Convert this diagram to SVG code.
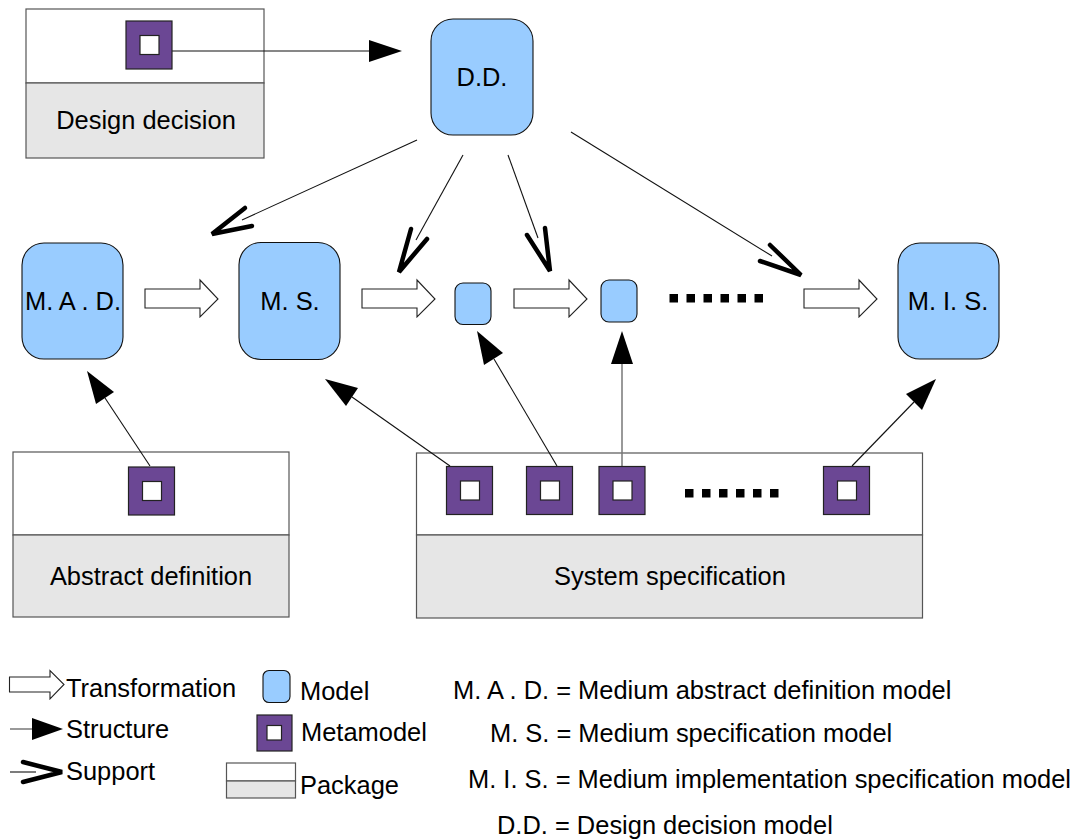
<svg xmlns="http://www.w3.org/2000/svg" width="1077" height="839" viewBox="0 0 1077 839">
<style>
text{font-family:"Liberation Sans",Arial,sans-serif;font-size:25.450px;fill:#000}
.m{text-anchor:middle}
.pt{fill:#fff;stroke:#555;stroke-width:1.2}
.pb{fill:#e6e6e6;stroke:#555;stroke-width:1.2}
.mod{fill:#99ccff;stroke:#111;stroke-width:1.1}
.mm{fill:#6b4794;stroke:#222;stroke-width:1.2}
.mi{fill:#fff;stroke:#222;stroke-width:1.2}
.ln{stroke:#111;stroke-width:1.1;fill:none}
.gr{stroke:#777;stroke-width:1.5;fill:none}
.hd{fill:#000;stroke:none}
.sup{fill:none;stroke:#000;stroke-width:4.500;stroke-linecap:round;stroke-linejoin:miter}
.tr{fill:#fff;stroke:#222;stroke-width:1.1}
.dot{fill:#000}
</style>
<defs>
<path id="tarrow" d="M0 10H55V1L73 20L55 38V29H0Z"/>
<g id="meta"><rect class="mm" width="46" height="48"/><rect class="mi" x="14" y="14.500" width="19" height="19"/></g>
<g id="dots"><rect class="dot" width="8.500" height="8.500"/><rect class="dot" x="17" width="8.500" height="8.500"/><rect class="dot" x="34" width="8.500" height="8.500"/><rect class="dot" x="51" width="8.500" height="8.500"/><rect class="dot" x="68" width="8.500" height="8.500"/><rect class="dot" x="85" width="8.500" height="8.500"/></g>
</defs>
<g id="pkg-design"><rect class="pt" x="26" y="9" width="238" height="74"/><rect class="pb" x="26" y="83" width="238" height="75"/><text class="m" x="146" y="129">Design decision</text></g>
<g id="pkg-abstract"><rect class="pt" x="13" y="452" width="276" height="83"/><rect class="pb" x="13" y="535" width="276" height="82"/><text class="m" x="151" y="585">Abstract definition</text></g>
<g id="pkg-system"><rect class="pt" x="416.500" y="453" width="506" height="82"/><rect class="pb" x="416.500" y="535" width="506" height="83"/><text class="m" x="670" y="585">System specification</text></g>
<g id="connectors">
<path class="ln" d="M172 51H372"/><path class="hd" d="M369 40L402 51L369 62Z"/>
<path class="ln" d="M417 140L242 220"/><path class="sup" d="M245 208L212 234L252 226"/>
<path class="ln" d="M463 155L416 240"/><path class="sup" d="M411 229L399 272L427 239"/>
<path class="ln" d="M508 155L538 238"/><path class="sup" d="M545 228L550 271L527 235"/>
<path class="ln" d="M571 132L772 256"/><path class="sup" d="M770 245L801 275L760 261"/>
<path class="ln" d="M150 466L105 398"/><path class="hd" d="M87 371L114 392L96 404Z"/>
<path class="ln" d="M450 466L352 397"/><path class="hd" d="M325 379L358 388L346 406Z"/>
<path class="ln" d="M557 466L494 359"/><path class="hd" d="M477 331L503 353L484 365Z"/>
<path class="gr" d="M622 466V360"/><path class="hd" d="M622 331L633 364H611Z"/>
<path class="ln" d="M852 466L914 402"/><path class="hd" d="M936 379L922 410L906 394Z"/>
</g>
<g id="meta1"><use href="#meta" x="126" y="21"/></g>
<g id="meta2"><use href="#meta" x="128.500" y="467"/></g>
<g id="meta3"><use href="#meta" x="446.500" y="466.500"/></g>
<g id="meta4"><use href="#meta" x="526.500" y="466.500"/></g>
<g id="meta5"><use href="#meta" x="599" y="466.500"/></g>
<g id="meta6"><use href="#meta" x="823.500" y="466.500"/></g>
<g id="dd"><rect class="mod" x="431" y="19" width="102" height="116" rx="22"/><text class="m" x="482" y="86">D.D.</text></g>
<g id="mad"><rect class="mod" x="22" y="243" width="101" height="116" rx="22"/><text class="m" x="73" y="310">M. A . D.</text></g>
<g id="ms"><rect class="mod" x="239" y="242.500" width="101" height="117" rx="22"/><text class="m" x="290" y="310">M. S.</text></g>
<g id="small1"><rect class="mod" x="455" y="283" width="36" height="41.500" rx="8"/></g>
<g id="small2"><rect class="mod" x="601" y="280" width="36" height="42" rx="8"/></g>
<g id="mis"><rect class="mod" x="898" y="243" width="101" height="116" rx="22"/><text class="m" x="948" y="310">M. I. S.</text></g>
<g id="transforms">
<use href="#tarrow" class="tr" x="145" y="279"/>
<use href="#tarrow" class="tr" x="362" y="279"/>
<use href="#tarrow" class="tr" x="514" y="279"/>
<use href="#tarrow" class="tr" x="804" y="279"/>
</g>
<use href="#dots" x="669.500" y="294"/>
<use href="#dots" x="685" y="489"/>
<g id="legend">
<path class="tr" d="M9.500 677H50V670.500L64 684.500L50 699V692H9.500Z"/>
<text x="66" y="697">Transformation</text>
<path class="gr" d="M10 729H34"/><path class="hd" d="M32 718L63 729L32 740Z"/>
<text x="66" y="738">Structure</text>
<path class="ln" d="M10 772H36"/><path class="sup" d="M23 762L62 772L23 782"/>
<text x="66" y="780">Support</text>
<rect class="mod" x="263" y="670.500" width="27" height="32" rx="6"/>
<text x="300" y="700">Model</text>
<rect class="mm" x="257" y="715" width="35" height="36"/><rect class="mi" x="267" y="725.500" width="14.500" height="14.500"/>
<text x="301" y="741">Metamodel</text>
<rect class="pt" x="226.500" y="763" width="69" height="18"/><rect class="pb" x="226.500" y="781" width="69" height="17"/>
<text x="300" y="794">Package</text>
<text x="453" y="699">M. A . D. = Medium abstract definition model</text>
<text x="490" y="742">M. S. = Medium specification model</text>
<text x="468" y="788">M. I. S. = Medium implementation specification model</text>
<text x="497" y="834">D.D. = Design decision model</text>
</g>
</svg>
